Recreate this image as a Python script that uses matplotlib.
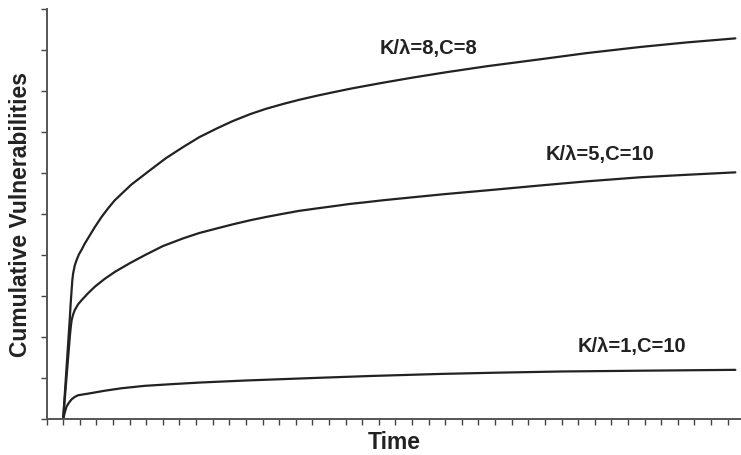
import matplotlib
matplotlib.use("Agg")
import matplotlib.pyplot as plt

plt.rcParams["font.family"] = ["Liberation Sans", "DejaVu Sans"]

# values (time in tick units, y in tick units)
t_high = [0, 0.40, 0.45, 0.51, 0.55, 0.60, 0.70, 0.81, 0.95, 1.11, 1.30, 1.51,
          1.90, 2.31, 2.70, 3.11, 4.10, 5.22, 6.20, 7.23, 8.20, 9.24, 10.20,
          11.25, 12.20, 13.25, 14.20, 15.27, 16.20, 17.27, 18.20, 19.28, 21.0,
          23.0, 25.5, 28.72, 31.5, 34.74, 37.5, 40.46]
v_high = [0, 2.45, 2.80, 3.15, 3.38, 3.55, 3.75, 3.88, 4.02, 4.13, 4.28, 4.42,
          4.68, 4.93, 5.14, 5.34, 5.72, 6.07, 6.37, 6.64, 6.88, 7.09, 7.27,
          7.44, 7.57, 7.69, 7.79, 7.89, 7.97, 8.06, 8.13, 8.21, 8.33,
          8.46, 8.61, 8.78, 8.93, 9.08, 9.19, 9.29]

t_mid = [0, 0.40, 0.46, 0.51, 0.60, 0.70, 0.90, 1.11, 1.50, 1.91, 2.50, 3.11,
         4.00, 4.92, 6.00, 7.23, 8.20, 9.24, 10.20, 11.25, 12.20, 13.25, 14.20,
         15.27, 16.20, 17.27, 18.20, 19.28, 21.0, 23.0, 25.5, 28.72, 31.5,
         34.74, 37.5, 40.46]
v_mid = [0, 2.0, 2.25, 2.41, 2.55, 2.66, 2.80, 2.90, 3.07, 3.23, 3.42, 3.59,
         3.80, 4.00, 4.22, 4.41, 4.54, 4.65, 4.75, 4.85, 4.93, 5.01, 5.08,
         5.14, 5.19, 5.25, 5.29, 5.34, 5.41, 5.49, 5.58, 5.70, 5.80,
         5.90, 5.96, 6.02]

t_low = [0, 0.10, 0.20, 0.35, 0.51, 0.70, 0.90, 1.20, 1.51, 2.50, 3.50, 4.92,
         6.50, 8.23, 11.0, 15.0, 18.5, 22.69, 26.0, 30.0, 35.0, 40.46]
v_low = [0, 0.16, 0.30, 0.40, 0.48, 0.54, 0.58, 0.60, 0.62, 0.69, 0.75, 0.81,
         0.85, 0.89, 0.94, 1.00, 1.05, 1.10, 1.13, 1.16, 1.18, 1.20]

labels = ["K/\u03bb=8,C=8", "K/\u03bb=5,C=10", "K/\u03bb=1,C=10"]
label_pos = [(21.97, 9.05), (32.33, 6.46), (34.24, 1.78)]

x_ticks = list(range(-1, 41))
y_ticks = list(range(0, 11))

fig = plt.figure(figsize=(7.41, 4.55), dpi=100)
ax = fig.add_axes([0.0628, 0.0791, 0.9372, 0.9005])

line_color = "#222222"
for t, v in [(t_high, v_high), (t_mid, v_mid), (t_low, v_low)]:
    ax.plot(t, v, color=line_color, linewidth=1.6, solid_capstyle="round",
            solid_joinstyle="round")

for text, (x, y) in zip(labels, label_pos):
    ax.text(x, y, text, ha="center", va="center", fontsize=14.5,
            fontweight="bold", color="#222222")

ax.set_xlim(-1, 40.8)
ax.set_ylim(0, 10)
ax.set_xticks(x_ticks)
ax.set_yticks(y_ticks)
ax.set_xticklabels([])
ax.set_yticklabels([])
ax.tick_params(direction="out", length=4, width=1.0, color="#444444")

for side in ["top", "right"]:
    ax.spines[side].set_visible(False)
for side in ["left", "bottom"]:
    ax.spines[side].set_color("#555555")
    ax.spines[side].set_linewidth(1.4)

ax.set_xlabel("Time", fontsize=16.5, fontweight="bold", color="#222222", labelpad=1)
ax.set_ylabel("Cumulative Vulnerabilities", fontsize=16.5, fontweight="bold",
              color="#222222", labelpad=3)

fig.savefig("out.png", dpi=100, facecolor="white")
